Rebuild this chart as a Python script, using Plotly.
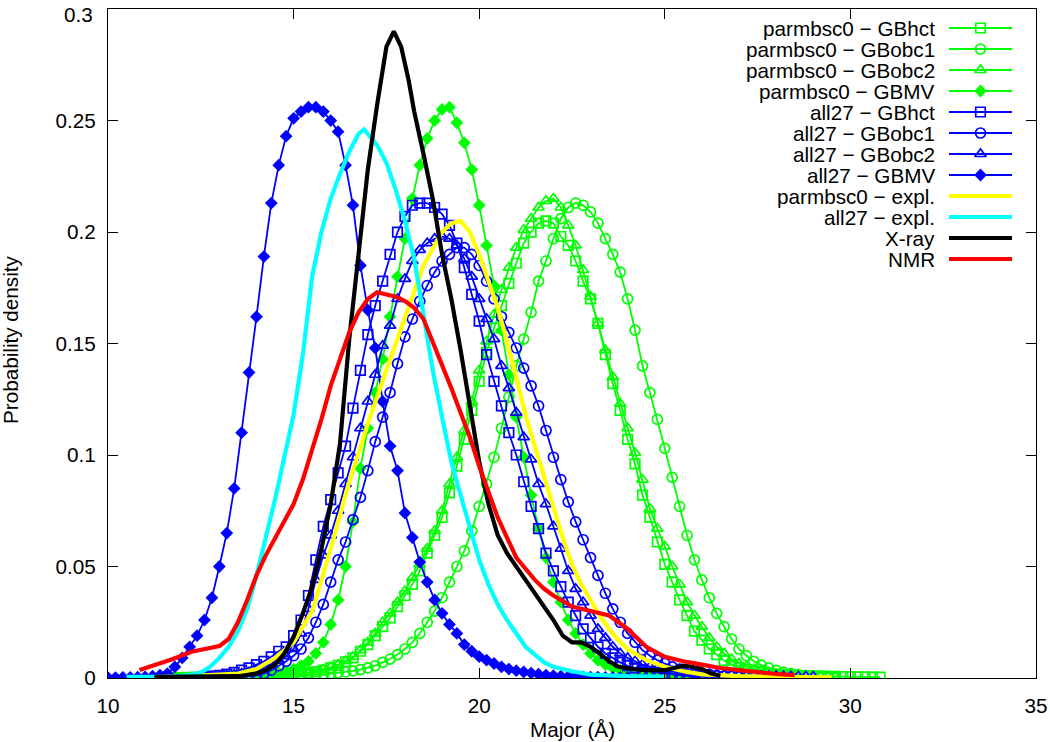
import numpy as np
import plotly.graph_objects as go

# ---------------- data ----------------
STEP = 0.2

# parmbsc0 - GBhct (green open squares)
P_GBHCT_X0 = 11.6
P_GBHCT_Y = [0.0002, 0.0002, 0.0002, 0.0003, 0.0003, 0.0003, 0.0004, 0.0004, 0.0005, 0.0005,
             0.0006, 0.0007, 0.0008, 0.0009, 0.001, 0.0012, 0.0014, 0.0016, 0.0019, 0.0023,
             0.0028, 0.0035, 0.0045, 0.0057, 0.0072, 0.009, 0.012, 0.015, 0.019, 0.023,
             0.027, 0.032, 0.037, 0.042, 0.048, 0.056, 0.064, 0.072, 0.083, 0.095,
             0.107, 0.12, 0.133, 0.146, 0.157, 0.167, 0.177, 0.186, 0.195, 0.2,
             0.204, 0.205, 0.204, 0.198, 0.194, 0.187, 0.178, 0.17, 0.159, 0.145,
             0.132, 0.12, 0.107, 0.096, 0.082, 0.072, 0.061, 0.051, 0.043, 0.035,
             0.028, 0.021, 0.017, 0.013, 0.0105, 0.0078, 0.006, 0.0048, 0.0038, 0.003,
             0.0025, 0.002, 0.0017, 0.0015, 0.0013, 0.0011, 0.001, 0.0009, 0.0008, 0.0007,
             0.0007, 0.0006, 0.0006, 0.0005, 0.0005, 0.0004, 0.0004]

# parmbsc0 - GBobc1 (green open circles)
P_GBOBC1_X0 = 12.0
P_GBOBC1_Y = [0.0002, 0.0002, 0.0002, 0.0002, 0.0003, 0.0003, 0.0003, 0.0004, 0.0004, 0.0005,
              0.0005, 0.0006, 0.0007, 0.0008, 0.0009, 0.001, 0.0011, 0.0013, 0.0015, 0.0017,
              0.002, 0.0023, 0.0027, 0.0032, 0.0038, 0.0045, 0.0055, 0.007, 0.0085, 0.0105,
              0.013, 0.016, 0.02, 0.025, 0.03, 0.036, 0.043, 0.05, 0.057, 0.066,
              0.077, 0.087, 0.099, 0.112, 0.126, 0.14, 0.152, 0.164, 0.178, 0.187,
              0.197, 0.206, 0.211, 0.213, 0.212, 0.209, 0.204, 0.197, 0.19, 0.182,
              0.17, 0.156, 0.14, 0.128, 0.116, 0.103, 0.09, 0.077, 0.064, 0.053,
              0.044, 0.036, 0.029, 0.023, 0.0175, 0.013, 0.01, 0.0075, 0.0058, 0.0045,
              0.0034, 0.0026, 0.002, 0.0015, 0.0012, 0.001, 0.0008, 0.0006, 0.0005]

# parmbsc0 - GBobc2 (green open triangles)
P_GBOBC2_X0 = 11.8
P_GBOBC2_Y = [0.0002, 0.0002, 0.0002, 0.0003, 0.0003, 0.0003, 0.0004, 0.0004, 0.0005, 0.0006,
              0.0007, 0.0008, 0.0009, 0.001, 0.0012, 0.0014, 0.0017, 0.002, 0.0025, 0.003,
              0.0038, 0.0048, 0.006, 0.0076, 0.0095, 0.0125, 0.016, 0.02, 0.025, 0.029,
              0.034, 0.039, 0.045, 0.051, 0.058, 0.066, 0.075, 0.087, 0.099, 0.111,
              0.124, 0.138, 0.151, 0.163, 0.174, 0.184, 0.193, 0.201, 0.206, 0.211,
              0.214, 0.215, 0.211, 0.203, 0.194, 0.183, 0.171, 0.159, 0.147, 0.135,
              0.123, 0.112, 0.101, 0.089, 0.076, 0.067, 0.059, 0.05, 0.042, 0.034,
              0.028, 0.023, 0.018, 0.014, 0.011, 0.0085, 0.0065, 0.005, 0.004, 0.0031,
              0.0025, 0.002, 0.0016, 0.0013, 0.0011, 0.0009, 0.0008, 0.0007, 0.0006, 0.0005]

# parmbsc0 - GBMV (green filled diamonds)
P_GBMV_X0 = 12.4
P_GBMV_Y = [0.0002, 0.0002, 0.0003, 0.0003, 0.0004, 0.0005, 0.0006, 0.0008, 0.001, 0.0013,
            0.0017, 0.0023, 0.003, 0.004, 0.0055, 0.0075, 0.011, 0.016, 0.024, 0.035,
            0.05, 0.07, 0.094, 0.112, 0.128, 0.143, 0.162, 0.18, 0.197, 0.215,
            0.23, 0.242, 0.25, 0.255, 0.256, 0.249, 0.24, 0.228, 0.212, 0.194,
            0.176, 0.156, 0.136, 0.117, 0.099, 0.082, 0.067, 0.054, 0.043, 0.034,
            0.026, 0.02, 0.015, 0.011, 0.008, 0.006, 0.0045, 0.0035, 0.0026, 0.002,
            0.0015, 0.0012, 0.001, 0.0008, 0.0006, 0.0005, 0.0004, 0.0003, 0.0003]

# all27 - GBhct (blue open squares)
A_GBHCT_X0 = 12.6
A_GBHCT_Y = [0.0005, 0.0008, 0.0012, 0.0017, 0.0025, 0.0035, 0.0045, 0.006, 0.0075, 0.0095,
             0.012, 0.014, 0.019, 0.026, 0.037, 0.053, 0.068, 0.08, 0.092, 0.104,
             0.121, 0.138, 0.154, 0.167, 0.178, 0.19, 0.2, 0.207, 0.212, 0.213,
             0.213, 0.211, 0.208, 0.203, 0.195, 0.184, 0.172, 0.16, 0.145, 0.133,
             0.122, 0.11, 0.1, 0.088, 0.077, 0.067, 0.056, 0.048, 0.041, 0.034,
             0.028, 0.022, 0.018, 0.014, 0.011, 0.009, 0.007, 0.0055, 0.0045, 0.0035,
             0.003, 0.0025, 0.002, 0.0016, 0.0013, 0.001, 0.0008, 0.0006]

# all27 - GBobc1 (blue open circles)
A_GBOBC1_X0 = 13.6
A_GBOBC1_Y = [0.0005, 0.0008, 0.0012, 0.002, 0.0035, 0.0055, 0.0075, 0.01, 0.013, 0.018,
              0.025, 0.033, 0.043, 0.053, 0.061, 0.071, 0.081, 0.093, 0.106, 0.117,
              0.128, 0.141, 0.153, 0.161, 0.169, 0.176, 0.182, 0.187, 0.19, 0.193,
              0.193, 0.19, 0.185, 0.178, 0.17, 0.162, 0.155, 0.148, 0.139, 0.131,
              0.122, 0.111, 0.099, 0.089, 0.079, 0.07, 0.062, 0.054, 0.046, 0.038,
              0.031, 0.025, 0.02, 0.016, 0.0125, 0.01, 0.008, 0.0065, 0.005, 0.004,
              0.0032, 0.0025, 0.002, 0.0016, 0.0012, 0.001, 0.0008, 0.0006]

# all27 - GBobc2 (blue open triangles)
A_GBOBC2_X0 = 12.4
A_GBOBC2_Y = [0.0004, 0.0006, 0.0008, 0.001, 0.0013, 0.0016, 0.002, 0.0025, 0.0035, 0.0048,
              0.0062, 0.0078, 0.0098, 0.013, 0.02, 0.031, 0.044, 0.055, 0.064, 0.075,
              0.087, 0.099, 0.112, 0.124, 0.136, 0.149, 0.158, 0.17, 0.179, 0.187,
              0.192, 0.195, 0.197, 0.198, 0.197, 0.194, 0.188, 0.18, 0.17, 0.161,
              0.152, 0.14, 0.13, 0.119, 0.108, 0.098, 0.087, 0.078, 0.068, 0.058,
              0.048, 0.04, 0.034, 0.028, 0.022, 0.018, 0.014, 0.011, 0.009, 0.0075,
              0.006, 0.005, 0.004, 0.0034, 0.003, 0.0026, 0.0023, 0.002, 0.0018, 0.0016,
              0.0015, 0.0014, 0.0013, 0.0012, 0.0011, 0.001, 0.001, 0.0009, 0.0009, 0.0008,
              0.0008, 0.0007, 0.0007, 0.0006]

# all27 - GBMV (blue filled diamonds)
A_GBMV_X0 = 10.0
A_GBMV_Y = [0.0002, 0.0002, 0.0003, 0.0003, 0.0004, 0.0005, 0.0008, 0.0013, 0.002, 0.005,
            0.009, 0.014, 0.019, 0.026, 0.036, 0.05, 0.065, 0.085, 0.11, 0.137,
            0.162, 0.189, 0.213, 0.23, 0.243, 0.251, 0.254, 0.256, 0.256, 0.254,
            0.25, 0.245, 0.23, 0.212, 0.185, 0.165, 0.148, 0.124, 0.104, 0.093,
            0.074, 0.063, 0.052, 0.043, 0.035, 0.029, 0.024, 0.02, 0.015, 0.012,
            0.0096, 0.008, 0.0065, 0.005, 0.004, 0.0033, 0.0027, 0.0022, 0.0017, 0.0013,
            0.001, 0.0008, 0.0007, 0.0006, 0.0005, 0.0004, 0.0004, 0.0003, 0.0003, 0.0002, 0.0002]

# parmbsc0 - expl. (yellow line)
P_EXPL_X = [11.5, 12, 12.5, 13, 13.5, 14, 14.5, 15, 15.5, 16,
            16.5, 17, 17.5, 18, 18.5, 19, 19.25, 19.5, 19.75, 20,
            20.25, 20.5, 20.75, 21, 21.25, 21.5, 21.75, 22, 22.25, 22.5,
            22.75, 23, 23.25, 23.5, 23.75, 24, 24.5, 25, 25.5, 26,
            26.5, 27, 28, 29, 29.5]
P_EXPL_Y = [0.0005, 0.0007, 0.001, 0.0015, 0.002, 0.004, 0.009, 0.016, 0.03, 0.058,
            0.088, 0.114, 0.138, 0.162, 0.185, 0.2, 0.204, 0.205, 0.2, 0.19,
            0.178, 0.166, 0.151, 0.134, 0.118, 0.104, 0.09, 0.077, 0.063, 0.051,
            0.042, 0.035, 0.028, 0.022, 0.017, 0.013, 0.008, 0.005, 0.003, 0.0016,
            0.001, 0.0008, 0.0005, 0.0004, 0.0003]

# all27 - expl. (cyan line)
A_EXPL_X = [10.5, 11, 11.5, 12, 12.25, 12.5, 12.75, 13, 13.25, 13.5,
            13.75, 14, 14.25, 14.5, 14.75, 15, 15.25, 15.5, 15.75, 16,
            16.25, 16.5, 16.75, 16.9, 17.25, 17.5, 17.75, 18, 18.25, 18.5,
            18.75, 19, 19.25, 19.5, 19.75, 20, 20.25, 20.5, 20.75, 21,
            21.25, 21.5, 21.75, 22, 22.5, 23, 23.5, 24, 25]
A_EXPL_Y = [0.0005, 0.0005, 0.0005, 0.001, 0.0015, 0.0025, 0.005, 0.009, 0.014, 0.021,
            0.031, 0.046, 0.063, 0.08, 0.099, 0.118, 0.145, 0.18, 0.2, 0.215,
            0.226, 0.236, 0.244, 0.246, 0.239, 0.231, 0.219, 0.205, 0.188, 0.163,
            0.138, 0.117, 0.097, 0.082, 0.067, 0.053, 0.042, 0.033, 0.026, 0.02,
            0.014, 0.0105, 0.007, 0.005, 0.003, 0.0015, 0.001, 0.0008, 0.0005]

# X-ray (black line)
XRAY_X = [11.25, 11.5, 12, 12.5, 13, 13.5, 14, 14.25, 14.5, 14.75,
          15, 15.25, 15.5, 15.75, 16, 16.25, 16.5, 16.75, 17, 17.25,
          17.5, 17.7, 17.9, 18.1, 18.25, 18.5, 18.75, 19, 19.25, 19.5,
          19.75, 20, 20.25, 20.5, 20.75, 21, 21.25, 21.5, 21.75, 22,
          22.25, 22.5, 22.75, 23, 23.25, 23.5, 23.75, 24, 24.25, 24.5,
          24.75, 25, 25.25, 25.5, 25.75, 26, 26.25, 26.5]
XRAY_Y = [0.0005, 0.0005, 0.0005, 0.0005, 0.0006, 0.0008, 0.002, 0.0035, 0.006, 0.011,
          0.0185, 0.029, 0.041, 0.058, 0.078, 0.105, 0.152, 0.19, 0.228, 0.257,
          0.283, 0.29, 0.283, 0.268, 0.254, 0.235, 0.215, 0.19, 0.17, 0.147,
          0.121, 0.097, 0.078, 0.064, 0.056, 0.05, 0.0445, 0.038, 0.032, 0.026,
          0.019, 0.016, 0.016, 0.014, 0.011, 0.0075, 0.005, 0.0042, 0.0038, 0.0035,
          0.0033, 0.0035, 0.0045, 0.0055, 0.005, 0.004, 0.002, 0.001]

# NMR (red line)
NMR_X = [10.85, 11.25, 11.75, 12.25, 12.75, 13.0, 13.25, 13.5, 13.75, 14.0,
         14.25, 14.5, 14.75, 15.0, 15.25, 15.5, 15.75, 16.0, 16.25, 16.5,
         16.75, 17.0, 17.25, 17.5, 17.75, 18.0, 18.25, 18.5, 18.75, 19.0,
         19.25, 19.5, 19.75, 20.0, 20.25, 20.5, 20.75, 21.0, 21.25, 21.5,
         21.75, 22.0, 22.5, 23.0, 23.5, 24.0, 24.5, 25.0, 25.5, 26.0,
         26.5, 27.0, 27.5, 28.0, 28.5]
NMR_Y = [0.0036, 0.0058, 0.0085, 0.0118, 0.0135, 0.0143, 0.0175, 0.025, 0.035, 0.046,
         0.055, 0.063, 0.071, 0.078, 0.089, 0.102, 0.116, 0.131, 0.143, 0.155,
         0.164, 0.17, 0.173, 0.172, 0.171, 0.169, 0.166, 0.161, 0.151, 0.141,
         0.13, 0.119, 0.108, 0.095, 0.083, 0.072, 0.063, 0.054, 0.049, 0.044,
         0.04, 0.037, 0.032, 0.03, 0.028, 0.022, 0.014, 0.0095, 0.0075, 0.006,
         0.0045, 0.0035, 0.0025, 0.0018, 0.0013]

X_TICKS = [10, 15, 20, 25, 30, 35]
Y_TICKS = [0, 0.05, 0.1, 0.15, 0.2, 0.25, 0.3]
Y_TICK_TEXT = ["0", "0.05", "0.1", "0.15", "0.2", "0.25", "0.3"]

M = "\u2212"
LABELS = [f"parmbsc0 {M} GBhct", f"parmbsc0 {M} GBobc1", f"parmbsc0 {M} GBobc2", f"parmbsc0 {M} GBMV",
          f"all27 {M} GBhct", f"all27 {M} GBobc1", f"all27 {M} GBobc2", f"all27 {M} GBMV",
          f"parmbsc0 {M} expl.", f"all27 {M} expl.", "X-ray", "NMR"]

# ---------------- figure ----------------
GREEN = "#00ff00"
BLUE = "#0000ff"
FONT = "Liberation Sans, Arial, sans-serif"
FS = 20.7


def grid(x0, ys):
    return np.round(x0 + STEP * np.arange(len(ys)), 3)


marker_series = [
    (P_GBHCT_X0, P_GBHCT_Y, GREEN, "square-open", 9.5),
    (P_GBOBC1_X0, P_GBOBC1_Y, GREEN, "circle-open", 10),
    (P_GBOBC2_X0, P_GBOBC2_Y, GREEN, "triangle-up-open", 10),
    (P_GBMV_X0, P_GBMV_Y, GREEN, "diamond", 8),
    (A_GBHCT_X0, A_GBHCT_Y, BLUE, "square-open", 9.5),
    (A_GBOBC1_X0, A_GBOBC1_Y, BLUE, "circle-open", 10),
    (A_GBOBC2_X0, A_GBOBC2_Y, BLUE, "triangle-up-open", 10),
    (A_GBMV_X0, A_GBMV_Y, BLUE, "diamond", 8),
]
line_series = [
    (P_EXPL_X, P_EXPL_Y, "#ffff00"),
    (A_EXPL_X, A_EXPL_Y, "#00ffff"),
    (XRAY_X, XRAY_Y, "#000000"),
    (NMR_X, NMR_Y, "#ff0000"),
]

fig = go.Figure()
styles = []
for (x0, ys, col, sym, sz), name in zip(marker_series, LABELS[:8]):
    fig.add_trace(go.Scatter(
        x=grid(x0, ys), y=ys, mode="lines+markers", name=name, showlegend=False,
        line=dict(color=col, width=1.8),
        marker=dict(symbol=sym, size=sz, color=col, line=dict(color=col, width=1.7)),
    ))
    styles.append(("lm", col, sym, sz))
for (xs, ys, col), name in zip(line_series, LABELS[8:]):
    fig.add_trace(go.Scatter(
        x=xs, y=ys, mode="lines", name=name, showlegend=False,
        line=dict(color=col, width=4.2),
    ))
    styles.append(("l", col, None, None))

# ---------------- custom legend (gnuplot style: text right, sample left) ----------------
L_LEFT, L_RIGHT, TOP, BOTTOM = 108, 1036, 9, 678
ROW0, ROW_DY = 28, 21
TEXT_RIGHT, SAMPLE_X0, SAMPLE_X1 = 937, 949, 1012
annotations = []
for i, (name, st) in enumerate(zip(LABELS, styles)):
    yy = ROW0 + ROW_DY * i
    kind, col, sym, sz = st
    if kind == "lm":
        fig.add_trace(go.Scatter(
            x=[SAMPLE_X0, (SAMPLE_X0 + SAMPLE_X1) / 2, SAMPLE_X1], y=[yy, yy, yy],
            xaxis="x2", yaxis="y2", mode="lines+markers", showlegend=False, hoverinfo="skip",
            line=dict(color=col, width=1.8),
            marker=dict(symbol=sym, size=sz, color=col, opacity=[0, 1, 0],
                        line=dict(color=col, width=1.7)),
        ))
    else:
        fig.add_trace(go.Scatter(
            x=[SAMPLE_X0, SAMPLE_X1], y=[yy, yy], xaxis="x2", yaxis="y2", mode="lines",
            showlegend=False, hoverinfo="skip", line=dict(color=col, width=4.2),
        ))
    annotations.append(dict(x=TEXT_RIGHT, y=yy, xref="x2", yref="y2", text=name,
                            showarrow=False, xanchor="right", yanchor="middle",
                            font=dict(family=FONT, size=FS, color="black")))

PW, PH = L_RIGHT - L_LEFT, BOTTOM - TOP
# axis titles
annotations.append(dict(x=0.5, y=-(729 - BOTTOM) / PH, xref="paper", yref="paper",
                        text="Major (Å)", showarrow=False, xanchor="center", yanchor="middle",
                        font=dict(family=FONT, size=FS, color="black")))
annotations.append(dict(x=-(L_LEFT - 11) / PW, y=(BOTTOM - 340) / PH,
                        xref="paper", yref="paper", text="Probability density", textangle=-90,
                        showarrow=False, xanchor="center", yanchor="middle",
                        font=dict(family=FONT, size=FS, color="black")))
# top y tick label drawn as text so that it stays inside the page
annotations.append(dict(x=-(L_LEFT - 95) / PW, y=(BOTTOM - 0.5) / PH, xref="paper", yref="paper",
                        text=Y_TICK_TEXT[-1], showarrow=False, xanchor="right", yanchor="top",
                        font=dict(family=FONT, size=FS, color="black")))
tick_text_drawn = Y_TICK_TEXT[:-1] + [""]

axis_common = dict(showline=True, linecolor="black", linewidth=1.2, mirror="allticks",
                   ticks="inside", ticklen=10, tickwidth=1.2, tickcolor="black",
                   showgrid=False, zeroline=False, ticklabeloverflow="allow",
                   tickfont=dict(family=FONT, size=FS, color="black"))

fig.update_layout(
    width=1050, height=742,
    margin=dict(l=L_LEFT, r=1050 - L_RIGHT, t=TOP, b=742 - BOTTOM, autoexpand=False),
    paper_bgcolor="white", plot_bgcolor="white",
    font=dict(family=FONT, size=FS, color="black"),
    xaxis=dict(range=[10, 35.002], tickvals=X_TICKS, ticklabelstandoff=9, **axis_common),
    yaxis=dict(range=[0, 0.30002], tickvals=Y_TICKS, ticktext=tick_text_drawn, ticklabelstandoff=7,
               **axis_common),
    xaxis2=dict(range=[L_LEFT, L_RIGHT], overlaying="x", anchor="y2", visible=False, fixedrange=True),
    yaxis2=dict(range=[BOTTOM, TOP], overlaying="y", anchor="x2", visible=False, fixedrange=True),
    annotations=annotations,
    showlegend=False,
)

fig.write_html("out.html", config={"displayModeBar": False},
               post_script="document.body.style.margin='0';document.body.style.padding='0';"
                           "document.documentElement.style.margin='0';")
